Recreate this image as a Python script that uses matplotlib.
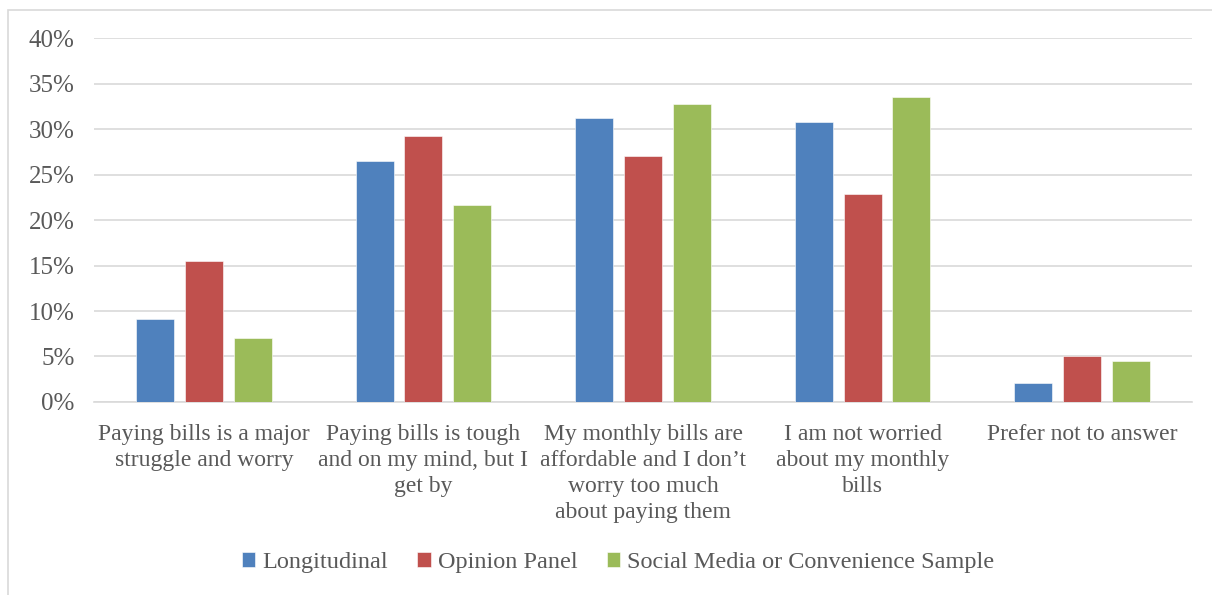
import matplotlib.pyplot as plt
import numpy as np
from matplotlib.patches import Rectangle
from matplotlib.ticker import PercentFormatter

# Survey answers and the share of each sample choosing them
CATEGORIES = [
    'Paying bills is a major\nstruggle and worry',
    'Paying bills is tough\nand on my mind, but I\nget by',
    'My monthly bills are\naffordable and I don\u2019t\nworry too much\nabout paying them',
    'I am not worried\nabout my monthly\nbills',
    'Prefer not to answer',
]
SERIES = ['Longitudinal', 'Opinion Panel', 'Social Media or Convenience Sample']
longitudinal = [9.1, 26.5, 31.2, 30.8, 2.1]
opinion_panel = [15.5, 29.2, 27.0, 22.9, 5.0]
social_media = [7.0, 21.7, 32.8, 33.5, 4.5]
COLORS = ['#4F81BD', '#C0504D', '#9BBB59']

TEXT = '#595959'
GRID = '#D9D9D9'
FONT = ['Liberation Serif', 'DejaVu Serif']

plt.rcParams['font.family'] = FONT

fig = plt.figure(figsize=(12.12, 5.95), dpi=100)
ax = fig.add_axes([0.0776, 0.3244, 0.9059, 0.6116])

# light frame around the chart area
fig.patches.append(Rectangle((8 / 1212, -0.01), 1.02, 1 - 10 / 595 + 0.01,
                             transform=fig.transFigure, fill=False,
                             edgecolor=GRID, linewidth=1.2))

x = np.arange(len(CATEGORIES))
width = 0.173
step = 0.222
for i, (name, vals) in enumerate(zip(SERIES, [longitudinal, opinion_panel, social_media])):
    ax.bar(x + (i - 1) * step, vals, width, color=COLORS[i], label=name,
           edgecolor='white', linewidth=0.4, zorder=3)

ax.set_xlim(-0.5, len(CATEGORIES) - 0.5)
ax.set_ylim(0, 40)
ax.set_yticks(np.arange(0, 41, 5))
ax.yaxis.set_major_formatter(PercentFormatter(decimals=0))
ax.set_xticks(x)
ax.set_xticklabels(CATEGORIES, fontsize=17, color=TEXT, linespacing=1.3)
ax.tick_params(axis='y', labelsize=18, labelcolor=TEXT, length=0, pad=14)
ax.tick_params(axis='x', length=0, pad=16)
ax.grid(axis='y', color=GRID, linewidth=1.2, zorder=0)
for side in ['top', 'right', 'left']:
    ax.spines[side].set_visible(False)
ax.spines['bottom'].set_color(GRID)
ax.spines['bottom'].set_linewidth(1.2)

leg = fig.legend(loc='center', bbox_to_anchor=(0.51, 0.054), ncol=3, frameon=False,
                 fontsize=17.5, handlelength=0.55, handleheight=0.55, handletextpad=0.3,
                 columnspacing=1.2)
for t in leg.get_texts():
    t.set_color(TEXT)

fig.savefig('out.png', dpi=100)
